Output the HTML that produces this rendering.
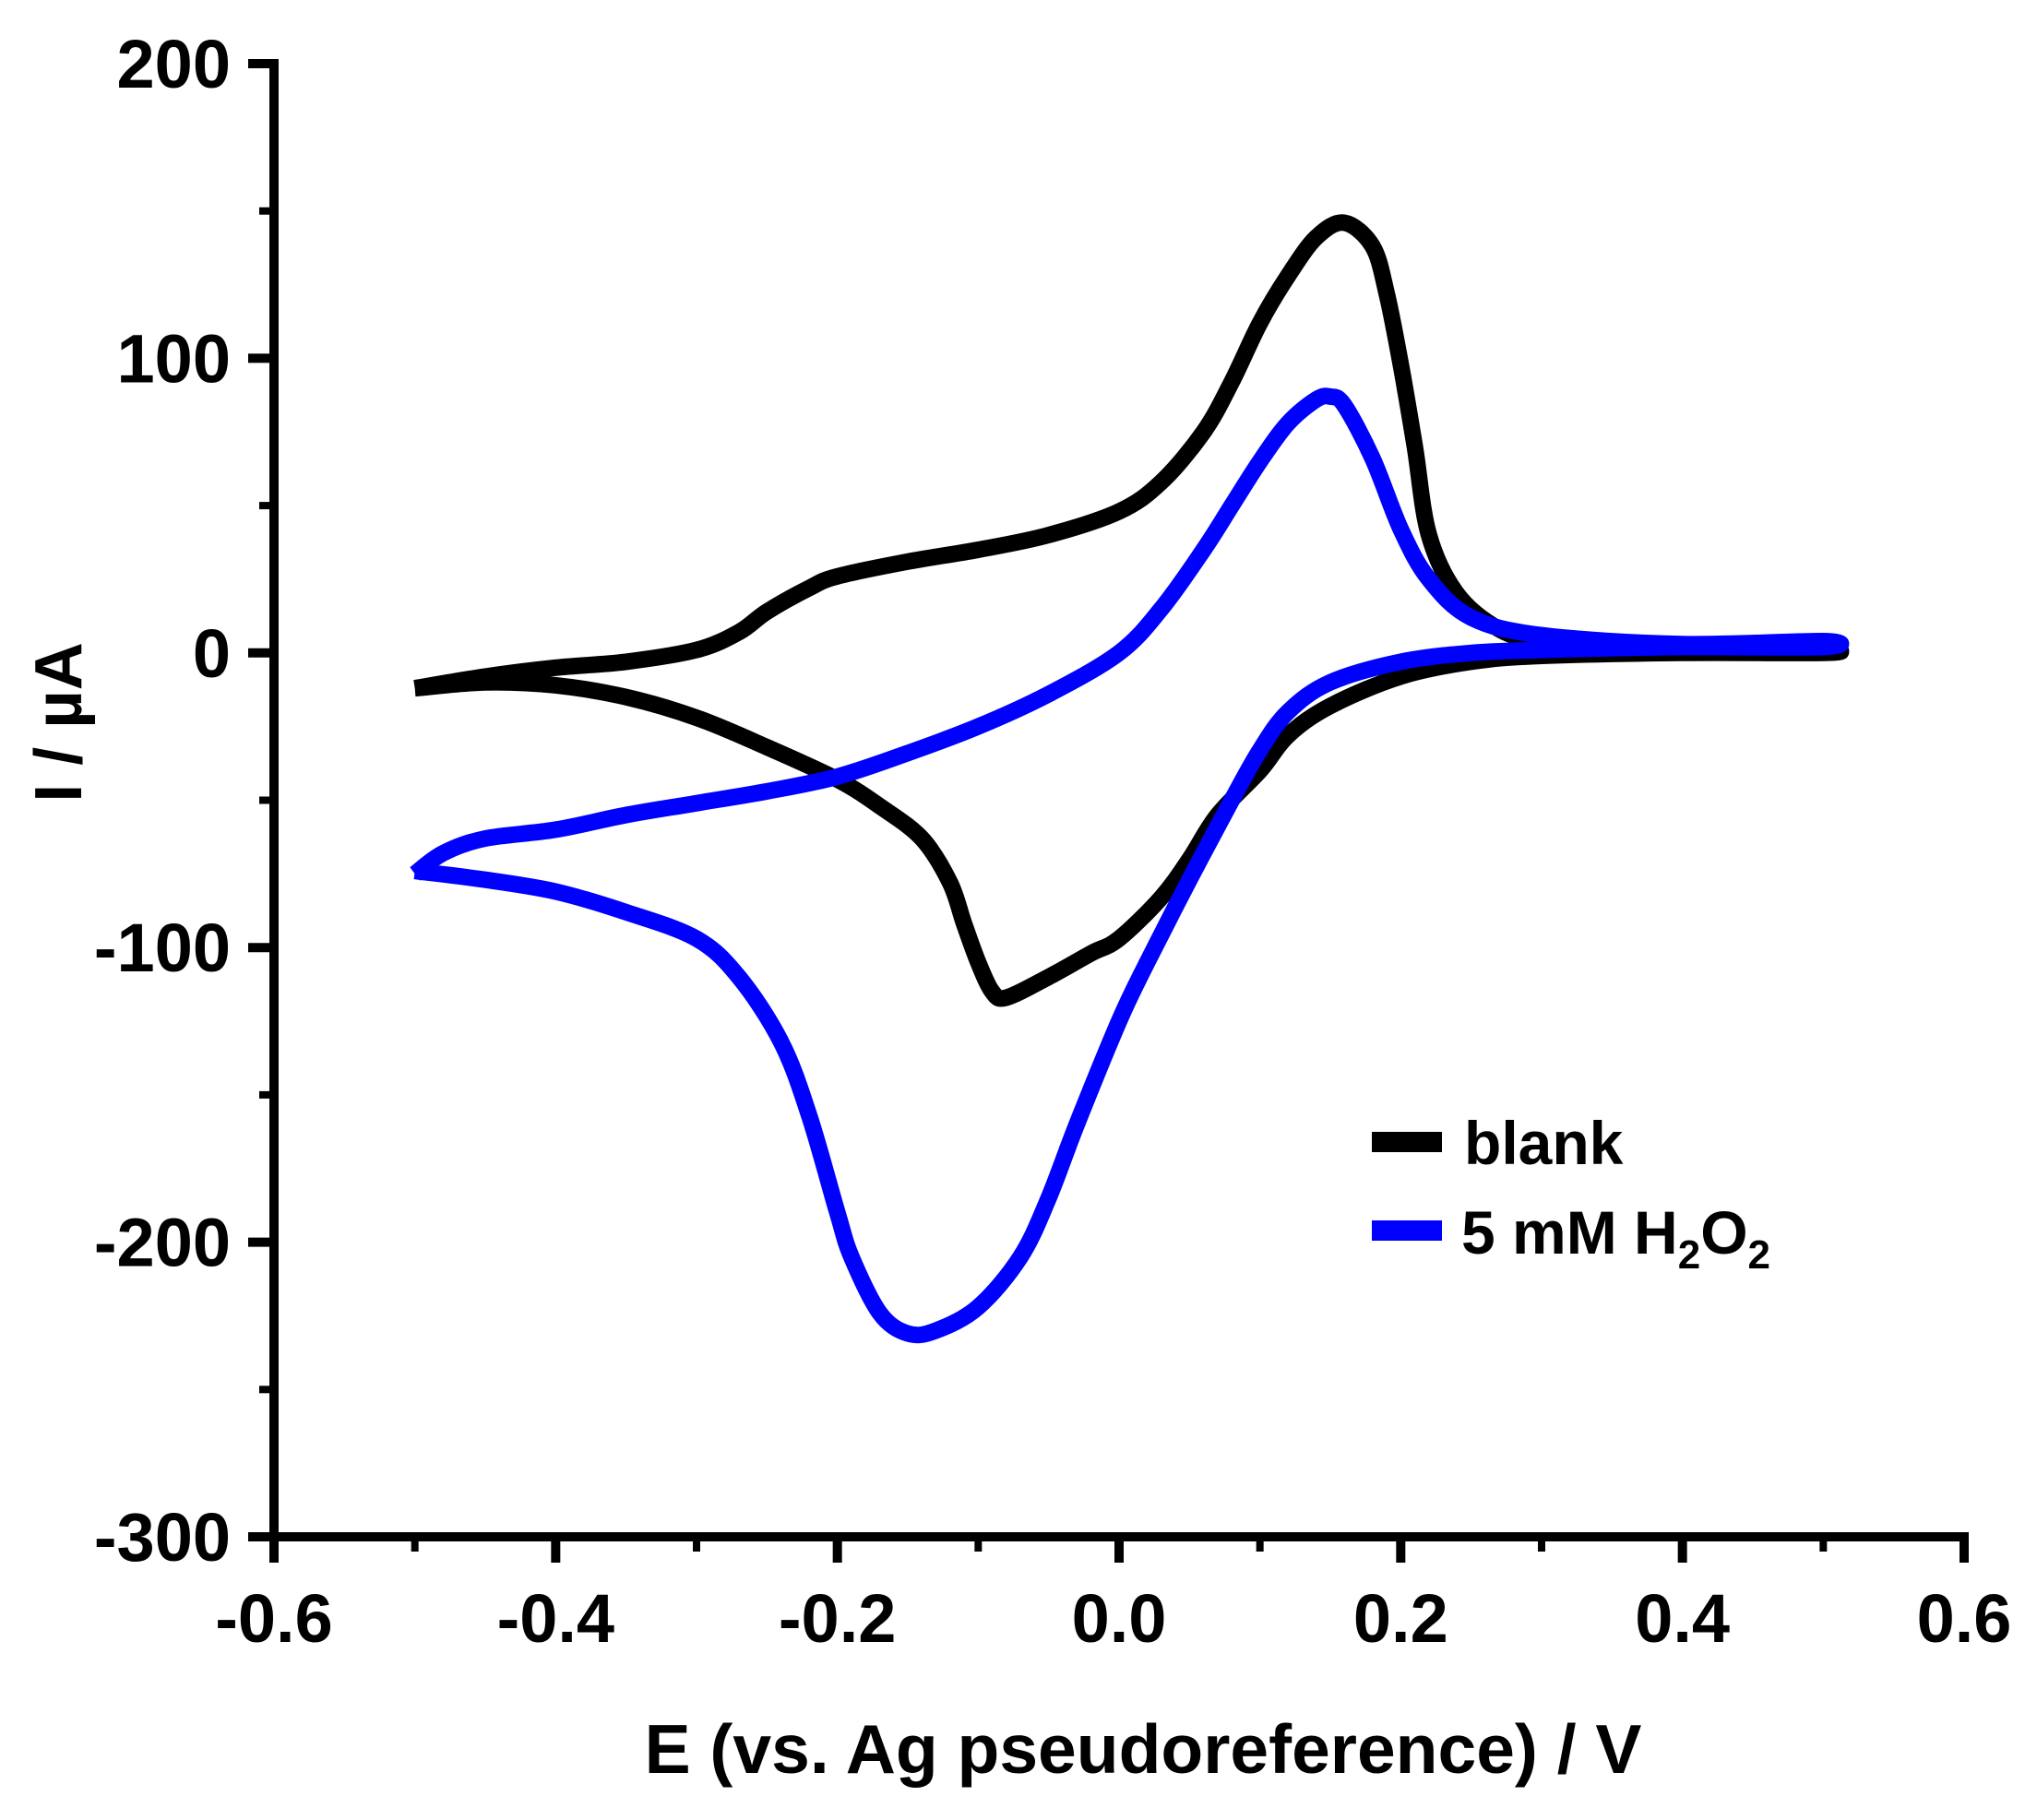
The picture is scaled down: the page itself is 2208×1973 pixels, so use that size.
<!DOCTYPE html>
<html><head><meta charset="utf-8"><style>
html,body{margin:0;padding:0;background:#fff;}
svg text{font-family:"Liberation Sans",Arial,sans-serif;font-weight:bold;fill:#000;}
</style></head><body>
<svg id="chart" width="2208" height="1968" viewBox="0 0 2208 1968" xmlns="http://www.w3.org/2000/svg">
<g id="axes"></g>
<g id="series"></g>
<text x="1239" y="1922" font-size="75" text-anchor="middle">E (vs. Ag pseudoreference) / V</text>
<text transform="translate(88,783) rotate(-90)" font-size="72" text-anchor="middle">I / µA</text>
<g>
<line x1="1487" y1="1238" x2="1563" y2="1238" stroke="#000" stroke-width="22"/>
<text x="1587" y="1262" font-size="66">blank</text>
<line x1="1487" y1="1334" x2="1563" y2="1334" stroke="#0000ff" stroke-width="22"/>
<text x="1584" y="1359" font-size="66">5 mM H<tspan font-size="44" dy="16">2</tspan><tspan dy="-16">O</tspan><tspan font-size="44" dy="16">2</tspan></text>
</g>
</svg>
<script>
const xTicks = [-0.6,-0.4,-0.2,0.0,0.2,0.4,0.6];
const xTickLabels = ["-0.6","-0.4","-0.2","0.0","0.2","0.4","0.6"];
const yTicks = [200,100,0,-100,-200,-300];
const yTickLabels = ["200","100","0","-100","-200","-300"];
const blankE = [-0.5,-0.45,-0.4,-0.35,-0.3,-0.27,-0.25,-0.22,-0.2,-0.15,-0.1,-0.05,0,0.03,0.06,0.08,0.1,0.12,0.14,0.16,0.18,0.19,0.2,0.21,0.22,0.24,0.27,0.3,0.35,0.4,0.5,
 0.5,0.4,0.3,0.25,0.2,0.15,0.12,0.1,0.07,0.05,0.03,0,-0.02,-0.05,-0.08,-0.09,-0.1,-0.11,-0.12,-0.14,-0.17,-0.2,-0.25,-0.3,-0.35,-0.4,-0.45,-0.5];
const blankI = [-12,-8,-5,-3,1,7,14,22,26,31,35,40,48,58,75,92,112,128,141,146,138,122,98,70,40,20,8,4,2,1,1,
 0,0,-1,-3,-8,-18,-28,-40,-55,-70,-83,-97,-102,-110,-117,-115,-105,-92,-78,-63,-52,-43,-32,-22,-15,-11,-10,-12];
const h2o2E = [-0.5,-0.48,-0.45,-0.4,-0.35,-0.3,-0.25,-0.2,-0.15,-0.1,-0.05,0,0.03,0.06,0.08,0.1,0.12,0.14,0.15,0.16,0.18,0.2,0.22,0.25,0.3,0.4,0.5,
 0.5,0.4,0.3,0.25,0.2,0.15,0.12,0.1,0.08,0.05,0.02,0,-0.03,-0.05,-0.07,-0.1,-0.13,-0.15,-0.17,-0.19,-0.2,-0.22,-0.24,-0.27,-0.3,-0.35,-0.4,-0.45,-0.5];
const h2o2I = [-75,-68,-63,-60,-55,-51,-47,-42,-34,-25,-14,0,15,35,50,65,78,86,87,84,66,42,25,12,6,3,4,
 2,2,1,0,-3,-10,-20,-33,-50,-77,-105,-125,-160,-185,-205,-222,-230,-231,-224,-205,-190,-157,-132,-110,-97,-88,-81,-77,-74];

const X0=297, X1=2129, Y0=69, Y1=1666;
function xs(v){return X0+(v+0.6)/1.2*(X1-X0);}
function ys(v){return Y0+(200-v)/500*(Y1-Y0);}
const NS="http://www.w3.org/2000/svg";
const axes=document.getElementById('axes');
function mk(tag,attrs,parent){const e=document.createElementNS(NS,tag);for(const k in attrs)e.setAttribute(k,attrs[k]);parent.appendChild(e);return e;}

let yl=mk('line',{x1:X0,y1:Y0-5,x2:X0,y2:Y1+5,stroke:'#000','stroke-width':10},axes);


let xl=mk('line',{x1:X0-5,y1:Y1,x2:X1+5,y2:Y1,stroke:'#000','stroke-width':10},axes);



yTicks.forEach((v,i)=>{
  const y=ys(v);
  const t=mk('line',{x1:X0-28,y1:y,x2:X0,y2:y,stroke:'#000','stroke-width':10},axes);
  
  
  const tx=mk('text',{x:250,y:y+26,'font-size':74,'text-anchor':'end'},axes);
  tx.textContent=yTickLabels[i];
  
  
  if(i<yTicks.length-1){
    const m=ys(v-50);
    const mt=mk('line',{x1:X0-16,y1:m,x2:X0,y2:m,stroke:'#000','stroke-width':8},axes);
    
    
  }
});
xTicks.forEach((v,i)=>{
  const x=xs(v);
  const t=mk('line',{x1:x,y1:Y1,x2:x,y2:Y1+28,stroke:'#000','stroke-width':10},axes);
  
  
  const tx=mk('text',{x:x,y:1780,'font-size':74,'text-anchor':'middle'},axes);
  tx.textContent=xTickLabels[i];
  
  
  if(i<xTicks.length-1){
    const m=xs(v+0.1);
    const mt=mk('line',{x1:m,y1:Y1,x2:m,y2:Y1+16,stroke:'#000','stroke-width':8},axes);
    
    
  }
});

function pathFor(E,I){
  const p=E.map((e,i)=>[xs(e),ys(I[i])]);
  let d='M'+p[0][0].toFixed(1)+','+p[0][1].toFixed(1);
  for(let i=0;i<p.length-1;i++){
    const p0=p[Math.max(0,i-1)],p1=p[i],p2=p[i+1],p3=p[Math.min(p.length-1,i+2)];
    const c1=[p1[0]+(p2[0]-p0[0])/6,p1[1]+(p2[1]-p0[1])/6];
    const c2=[p2[0]-(p3[0]-p1[0])/6,p2[1]-(p3[1]-p1[1])/6];
    d+=' C'+c1[0].toFixed(1)+','+c1[1].toFixed(1)+' '+c2[0].toFixed(1)+','+c2[1].toFixed(1)+' '+p2[0].toFixed(1)+','+p2[1].toFixed(1);
  }
  return d;
}
const ser=document.getElementById('series');
const pb=mk('path',{d:pathFor(blankE,blankI),fill:'none',stroke:'#000','stroke-width':18,'stroke-linejoin':'round','stroke-linecap':'butt'},ser);


const ph=mk('path',{d:pathFor(h2o2E,h2o2I),fill:'none',stroke:'#0000ff','stroke-width':18,'stroke-linejoin':'round','stroke-linecap':'butt'},ser);


</script>
</body></html>
